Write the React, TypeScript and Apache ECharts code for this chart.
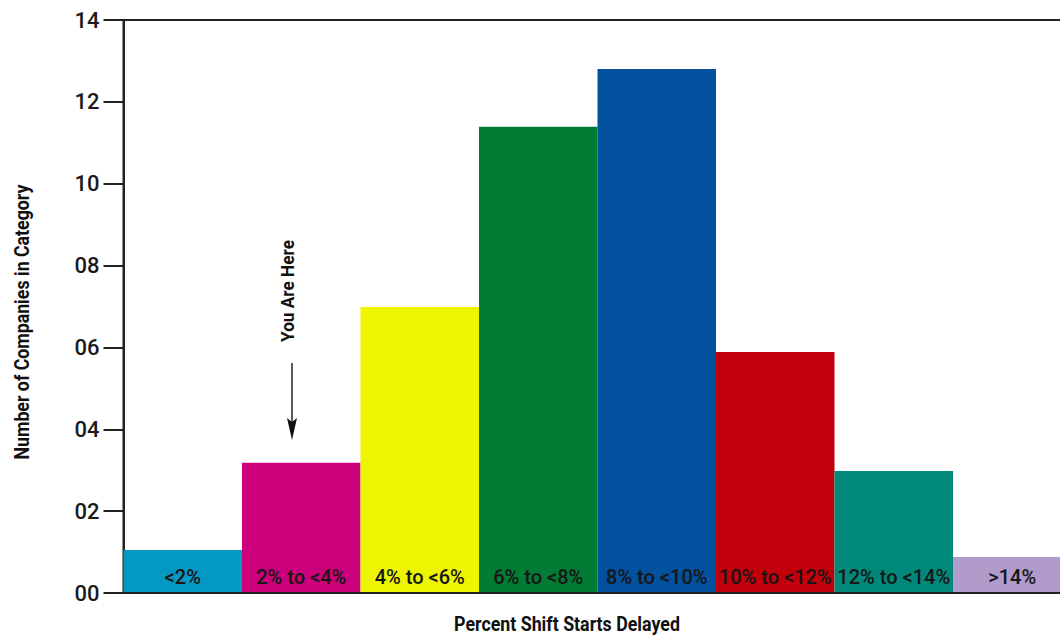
import React, { useEffect, useRef } from "react";
import * as echarts from "echarts";

const categories = ["<2%", "2% to <4%", "4% to <6%", "6% to <8%", "8% to <10%", "10% to <12%", "12% to <14%", ">14%"];
const companies = [1.05, 3.18, 6.99, 11.39, 12.8, 5.89, 2.98, 0.88];
const barColors = ["#0399C4", "#CC007A", "#EEF500", "#027B35", "#02509E", "#C2000B", "#00897A", "#B09BCA"];
const yTitle = "Number of Companies in Category";
const xTitle = "Percent Shift Starts Delayed";
const annotation = "You Are Here";

const FONT = "Roboto, 'Liberation Sans', sans-serif";

function fitScale(text: string, font: string, target: number): number {
  const c = document.createElement("canvas").getContext("2d");
  if (!c) return 1;
  c.font = font;
  const w = c.measureText(text).width;
  return w > 0 ? Math.min(1, target / w) : 1;
}

export default function App() {
  const ref = useRef<HTMLDivElement>(null);
  useEffect(() => {
    document.body.style.margin = "0";
    const chart = echarts.init(ref.current!, null, { renderer: "svg" });
    const yFont = `bold 20px ${FONT}`;
    const xFont = `bold 21px ${FONT}`;
    const aFont = `bold 19px ${FONT}`;
    chart.setOption({
      animation: false,
      backgroundColor: "#ffffff",
      grid: {
        left: 123.5,
        top: 20,
        width: 948,
        height: 573,
        outerBoundsMode: "none",
        show: true,
        borderColor: "#222222",
        borderWidth: 2,
        backgroundColor: "transparent",
      },
      xAxis: {
        type: "category",
        data: categories,
        axisLine: { show: true, lineStyle: { color: "#222222", width: 2 } },
        axisTick: { show: false },
        axisLabel: {
          inside: true,
          interval: 0,
          margin: 6,
          verticalAlign: "bottom",
          color: "#161616",
          fontSize: 20,
          fontWeight: 500,
          fontFamily: FONT,
        },
        z: 10,
      },
      yAxis: {
        type: "value",
        min: 0,
        max: 14,
        interval: 2,
        splitLine: { show: false },
        axisLine: { show: true, lineStyle: { color: "#222222", width: 2 } },
        axisTick: { show: true, length: 20, lineStyle: { color: "#222222", width: 2 } },
        axisLabel: {
          margin: 24,
          color: "#1a1a1a",
          fontSize: 22,
          fontWeight: 500,
          fontFamily: FONT,
          formatter: (v: number) => String(v).padStart(2, "0"),
        },
      },
      series: [
        {
          type: "bar",
          barWidth: "100%",
          barCategoryGap: 0,
          data: companies.map((v, i) => ({ value: v, itemStyle: { color: barColors[i] } })),
        },
      ],
      graphic: [
        {
          type: "text",
          x: 22,
          y: 322,
          rotation: Math.PI / 2,
          scaleX: fitScale(yTitle, yFont, 275),
          style: {
            text: yTitle,
            fill: "#111111",
            font: yFont,
            textAlign: "center",
            textVerticalAlign: "middle",
          },
        },
        {
          type: "text",
          x: 567,
          y: 624,
          scaleX: fitScale(xTitle, xFont, 226),
          style: {
            text: xTitle,
            fill: "#111111",
            font: xFont,
            textAlign: "center",
            textVerticalAlign: "middle",
          },
        },
        {
          type: "text",
          x: 287,
          y: 291,
          rotation: Math.PI / 2,
          scaleX: fitScale(annotation, aFont, 102),
          style: {
            text: annotation,
            fill: "#111111",
            font: aFont,
            textAlign: "center",
            textVerticalAlign: "middle",
          },
        },
        {
          type: "line",
          shape: { x1: 292, y1: 363, x2: 292, y2: 425 },
          style: { stroke: "#222222", lineWidth: 1.5 },
        },
        {
          type: "polygon",
          shape: { points: [[287, 418], [292, 422], [297, 418], [292, 440]] },
          style: { fill: "#111111" },
        },
      ],
    });
    return () => chart.dispose();
  }, []);
  return (
    <div style={{ position: "fixed", left: 0, top: 0, width: 1060, height: 635, overflow: "hidden", background: "#ffffff" }}>
      <div ref={ref} style={{ width: 1080, height: 635 }} />
    </div>
  );
}
